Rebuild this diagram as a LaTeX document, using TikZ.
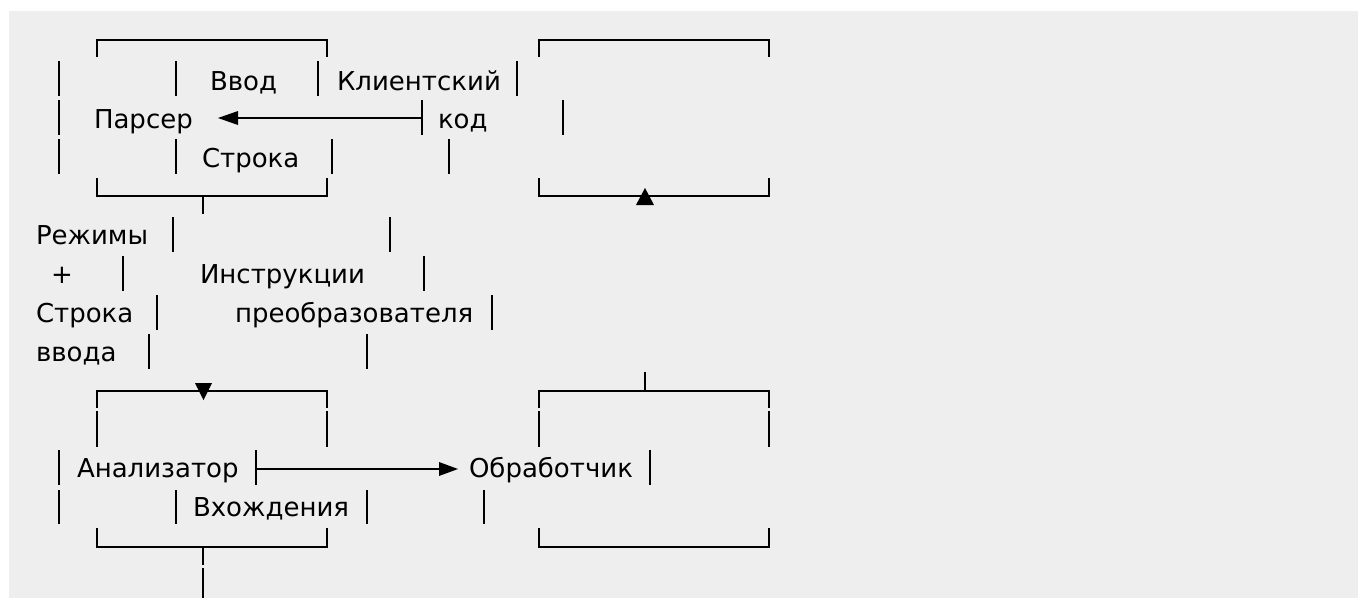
\documentclass[tikz,border=0pt]{standalone}
\usepackage{fontspec}
\setmainfont{DejaVu Sans}
\definecolor{bggray}{HTML}{EEEEEE}
\tikzset{
  txt/.style={inner sep=0pt, outer sep=0pt, anchor=base west, font=\fontsize{26}{30}\selectfont},
  ln/.style={line width=1.5pt, line cap=butt},
  tri/.style={fill=black},
}
\newcommand{\abar}[3]{\draw[ln] (#1,#2) -- (#1,#3);}
\begin{document}
\begin{tikzpicture}[x=1pt,y=-1pt]
\useasboundingbox (0,0) rectangle (1358,598);
\fill[white] (0,0) rectangle (1358,598);
\fill[bggray] (9,11) rectangle (1358,598);
% line 1
\draw[ln] (97,57) -- (97,40) -- (327,40) -- (327,57);
\draw[ln] (539,57) -- (539,40) -- (769,40) -- (769,57);
% line 2
\abar{59}{61}{96}\abar{176}{61}{96}\abar{318}{61}{96}\abar{517}{61}{96}
\node[txt] (vvod) at (210,90) {Ввод};
\node[txt] (klient) at (337,90) {Клиентский};
% line 3
\abar{59}{100}{135}
\node[txt] (parser) at (94,128) {Парсер};
\coordinate (kodtick) at (422,118);
\coordinate (parsertip) at (218,118);
\abar{422}{100}{135}
\draw[ln] (kodtick) -- ([xshift=19pt]parsertip);
\fill[tri] (parsertip) -- ++(20,-7) -- ++(0,14) -- cycle;
\node[txt] (kod) at (438,128) {код};
\abar{563}{100}{135}
% line 4
\abar{59}{139}{174}\abar{176}{139}{174}\abar{332}{139}{174}\abar{449}{139}{174}
\node[txt] (stroka1) at (202,167) {Строка};
% line 5
\draw[ln] (97,178) -- (97,196) -- (327,196) -- (327,178);
\draw[ln] (203,196) -- (203,214);
\draw[ln] (539,178) -- (539,196) -- (769,196) -- (769,178);
\fill[tri] (636,205) -- (654,205) -- (645,188) -- cycle;
% line 6
\node[txt] (rezh) at (36,244) {Режимы};
\abar{173}{217}{252}\abar{390}{217}{252}
% line 7
\node[txt, anchor=base] (plus) at (62,283) {+};
\abar{123}{256}{291}\abar{424}{256}{291}
\node[txt] (instr) at (200,283) {Инструкции};
% line 8
\node[txt] (stroka2) at (36,322) {Строка};
\abar{157}{295}{330}\abar{492}{295}{330}
\node[txt] (preobr) at (235,322) {преобразователя};
% line 9
\node[txt] (vvoda) at (36,361) {ввода};
\abar{149}{334}{369}\abar{367}{334}{369}
% line 10
\draw[ln] (97,408) -- (97,391) -- (327,391) -- (327,408);
\fill[tri] (195,383) -- (212,383) -- (203.5,400) -- cycle;
\draw[ln] (539,408) -- (539,391) -- (769,391) -- (769,408);
\draw[ln] (645,391) -- (645,372);
% line 11
\abar{97}{411}{447}\abar{327}{411}{447}\abar{539}{411}{447}\abar{769}{411}{447}
% line 12
\abar{59}{450}{485}
\node[txt] (anal) at (77,477) {Анализатор};
\coordinate (analtick) at (256,469);
\coordinate (obrtip) at (458,469);
\abar{256}{450}{485}
\draw[ln] (analtick) -- ([xshift=-18pt]obrtip);
\fill[tri] (obrtip) -- ++(-19,-7) -- ++(0,14) -- cycle;
\node[txt] (obr) at (469,477) {Обработчик};
\abar{650}{450}{485}
% line 13
\abar{59}{490}{524}\abar{176}{490}{524}\abar{367}{490}{524}\abar{484}{490}{524}
\node[txt] (vhozh) at (193,516) {Вхождения};
% line 14
\draw[ln] (97,528) -- (97,547) -- (327,547) -- (327,528);
\draw[ln] (203,547) -- (203,565);
\draw[ln] (539,528) -- (539,547) -- (769,547) -- (769,528);
% line 15
\draw[ln] (203,568) -- (203,598);
\end{tikzpicture}
\end{document}
